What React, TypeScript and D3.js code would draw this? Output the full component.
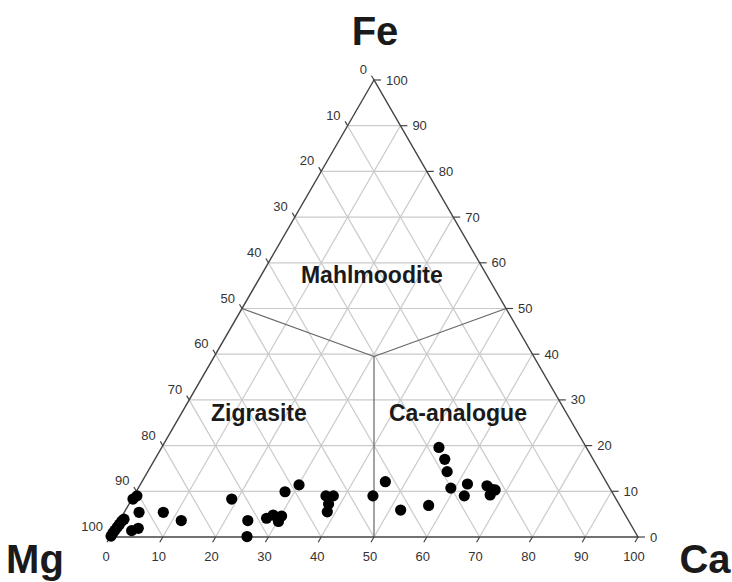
import { useEffect, useRef } from 'react';
import * as d3 from 'd3';

// Sample compositions (mol %), Mg = 100 - Fe - Ca
const feValues = [8.3, 9.0, 5.4, 5.4, 3.6, 0.2, 0.9, 1.5, 2.2, 2.8, 3.5, 3.9, 1.4, 1.9,
  8.3, 3.6, 0.1, 4.1, 4.8, 3.4, 4.6, 9.9, 11.4, 9.0, 9.0, 7.2, 5.5, 9.0, 12.1, 5.9, 6.9,
  19.6, 17.0, 14.3, 10.7, 11.6, 9.0, 11.2, 10.4, 10.3, 9.2];
const caValues = [0.2, 0.6, 2.8, 7.4, 11.7, 0.1, 0.1, 0.2, 0.3, 0.4, 0.5, 0.7, 3.4, 4.4,
  18.9, 24.3, 25.9, 27.6, 28.5, 30.2, 30.2, 28.2, 30.1, 36.4, 37.8, 37.8, 38.4, 45.3, 46.1, 52.1, 56.9,
  52.5, 54.9, 56.7, 59.2, 61.9, 62.6, 65.8, 67.1, 67.8, 67.4];

const gridSteps = [10, 20, 30, 40, 50, 60, 70, 80, 90];
const tickSteps = [0, 10, 20, 30, 40, 50, 60, 70, 80, 90, 100];

// Field boundaries: [Fe, Ca] end points and the triple junction
const junction = [39.5, 30.25];
const boundaryEnds = [[50, 0], [50, 50], [0, 50]];

const fieldLabels = [
  { text: 'Mahlmoodite', fe: 55.6, ca: 21.8 },
  { text: 'Zigrasite', fe: 25.4, ca: 15.5 },
  { text: 'Ca-analogue', fe: 25.4, ca: 53.2 },
];

const width = 732;
const height = 582;

const App = () => {
  const svgRef = useRef<SVGSVGElement>(null);

  useEffect(() => {
    if (!svgRef.current) return;
    const svg = d3.select(svgRef.current);
    svg.selectAll('*').remove();

    const font = 'Liberation Sans, Arial, sans-serif';

    // Bottom axis carries Ca, height carries Fe
    const xScale = d3.scaleLinear().domain([0, 100]).range([110, 638]);
    const yScale = d3.scaleLinear().domain([0, 100]).range([537, 80]);
    const proj = (fe: number, ca: number): [number, number] => [xScale(ca + fe / 2), yScale(fe)];
    const line = d3.line();

    const g = svg.append('g');

    // Grid
    const grid = g.append('g').attr('stroke', '#cacaca').attr('stroke-width', 1.2).attr('fill', 'none');
    gridSteps.forEach(v => {
      grid.append('path').attr('d', line([proj(v, 0), proj(v, 100 - v)]));
      grid.append('path').attr('d', line([proj(0, v), proj(100 - v, v)]));
      grid.append('path').attr('d', line([proj(0, 100 - v), proj(100 - v, 0)]));
    });

    // Field boundaries
    boundaryEnds.forEach(([fe, ca]) => {
      g.append('path')
        .attr('d', line([proj(fe, ca), proj(junction[0], junction[1])]))
        .attr('stroke', '#666')
        .attr('stroke-width', 1.2)
        .attr('fill', 'none');
    });

    // Triangle outline
    g.append('path')
      .attr('d', line([proj(100, 0), proj(0, 0), proj(0, 100)]) + 'Z')
      .attr('stroke', '#444')
      .attr('stroke-width', 1.4)
      .attr('fill', 'none');

    const ticks = g.append('g').attr('stroke', '#444').attr('stroke-width', 1.2);
    const labels = g.append('g')
      .style('font-family', font)
      .style('font-size', '13px')
      .style('fill', '#333');

    tickSteps.forEach(v => {
      // Ca along the bottom
      const [bx, by] = proj(0, v);
      ticks.append('line').attr('x1', bx).attr('y1', by).attr('x2', bx - 3).attr('y2', by + 5.2);
      labels.append('text')
        .attr('x', bx - 4).attr('y', by + 24)
        .attr('text-anchor', 'middle')
        .text(v);

      // Fe along the right edge
      const [rx, ry] = proj(v, 100 - v);
      ticks.append('line').attr('x1', rx).attr('y1', ry).attr('x2', rx + 7).attr('y2', ry);
      labels.append('text')
        .attr('x', rx + 12).attr('y', ry)
        .attr('dy', '0.35em')
        .text(v);

      // Mg along the left edge
      const [lx, ly] = proj(100 - v, 0);
      ticks.append('line').attr('x1', lx).attr('y1', ly).attr('x2', lx - 2.5).attr('y2', ly - 4.3);
      labels.append('text')
        .attr('x', lx - 7).attr('y', ly - 6)
        .attr('text-anchor', 'end')
        .text(v);
    });

    // Field names
    g.selectAll('.field')
      .data(fieldLabels)
      .enter()
      .append('text')
      .attr('class', 'field')
      .attr('x', d => proj(d.fe, d.ca)[0])
      .attr('y', d => proj(d.fe, d.ca)[1])
      .attr('text-anchor', 'middle')
      .style('font-family', font)
      .style('font-weight', 'bold')
      .style('font-size', '23px')
      .style('fill', '#1a1a1a')
      .text(d => d.text);

    // Samples
    g.selectAll('.pt')
      .data(feValues.map((fe, i) => ({ fe, ca: caValues[i], mg: 100 - fe - caValues[i] })))
      .enter()
      .append('circle')
      .attr('class', 'pt')
      .attr('cx', d => proj(d.fe, d.ca)[0])
      .attr('cy', d => proj(d.fe, d.ca)[1])
      .attr('r', 5.6)
      .attr('fill', '#000');

    // Corner labels
    const corners = [
      { text: 'Fe', x: 375, y: 45 },
      { text: 'Mg', x: 35, y: 573 },
      { text: 'Ca', x: 705, y: 573 },
    ];
    g.selectAll('.corner')
      .data(corners)
      .enter()
      .append('text')
      .attr('class', 'corner')
      .attr('x', d => d.x)
      .attr('y', d => d.y)
      .attr('text-anchor', 'middle')
      .style('font-family', font)
      .style('font-weight', 'bold')
      .style('font-size', '40px')
      .style('fill', '#1a1a1a')
      .text(d => d.text);
  }, []);

  return (
    <svg
      ref={svgRef}
      width={width}
      height={height}
      style={{ position: 'absolute', left: 0, top: 0, background: '#fff' }}
    />
  );
};

export default App;
